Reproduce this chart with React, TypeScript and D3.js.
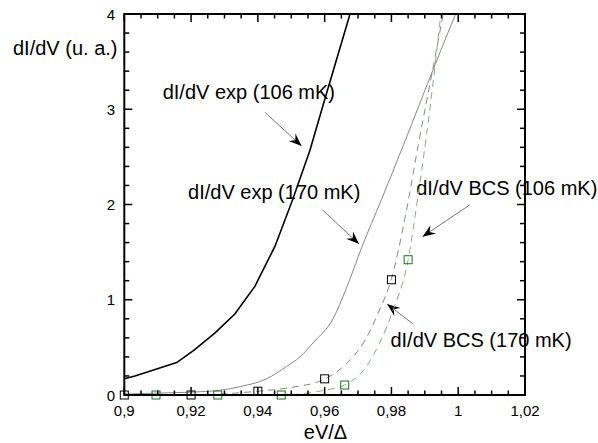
import React from "react";
import * as d3 from "d3";

// ---- data ----
const exp106X = [0.9, 0.9032, 0.9157, 0.9207, 0.9271, 0.9331, 0.9391, 0.9451, 0.9476, 0.9504, 0.9556, 0.96, 0.9676];
const exp106Y = [0.17, 0.2, 0.34, 0.465, 0.65, 0.85, 1.14, 1.56, 1.79, 2.05, 2.57, 3.1, 4.0];

const exp170X = [0.9, 0.91, 0.92, 0.9287, 0.935, 0.9426, 0.9486, 0.9526, 0.9566, 0.9625, 0.9665, 0.9711, 0.977, 0.984, 0.9915, 0.9992];
const exp170Y = [0.01, 0.02, 0.03, 0.05, 0.09, 0.17, 0.3, 0.4, 0.55, 0.8, 1.12, 1.55, 2.05, 2.66, 3.33, 4.0];

const bcs170X = [0.9, 0.92, 0.94, 0.95, 0.9595, 0.965, 0.9685, 0.9725, 0.976, 0.98, 0.9843, 0.988, 0.992, 0.9955];
const bcs170Y = [0, 0, 0.04, 0.08, 0.16, 0.28, 0.4, 0.6, 0.86, 1.22, 1.9, 2.62, 3.35, 4.0];

const bcs106X = [0.9, 0.9095, 0.928, 0.947, 0.955, 0.96, 0.966, 0.9725, 0.9765, 0.9805, 0.985, 0.988, 0.9915, 0.9948];
const bcs106Y = [0, 0, 0, 0, 0.02, 0.05, 0.105, 0.3, 0.55, 0.89, 1.42, 2.1, 3.0, 4.0];

const mark170X = [0.9, 0.92, 0.94, 0.96, 0.98];
const mark170Y = [0, 0, 0.04, 0.17, 1.21];
const mark106X = [0.9095, 0.928, 0.947, 0.966, 0.985];
const mark106Y = [0, 0, 0, 0.105, 1.42];

const xMajorTicks = [0.9, 0.92, 0.94, 0.96, 0.98, 1, 1.02];
const yMajorTicks = [0, 1, 2, 3, 4];

const labels = [
  { text: "dI/dV exp (106 mK)", x: 0.9115, y: 3.11, fx: 0.9421, fy: 2.968, tx: 0.9531, ty: 2.614 },
  { text: "dI/dV exp (170 mK)", x: 0.9191, y: 2.06, fx: 0.9594, fy: 1.942, tx: 0.9703, ty: 1.585 },
  { text: "dI/dV BCS (106 mK)", x: 0.9874, y: 2.1, fx: 1.0034, fy: 1.995, tx: 0.9893, ty: 1.662 },
  { text: "dI/dV BCS (170 mK)", x: 0.9797, y: 0.507, fx: 0.9865, fy: 0.745, tx: 0.9787, ty: 0.955 },
];

const W = 598, H = 443;
const L = 124.3, R = 525, T = 14, B = 395;

export default function App() {
  const x = d3.scaleLinear().domain([0.9, 1.02]).range([L, R]);
  const y = d3.scaleLinear().domain([0, 4]).range([B, T]);
  const line = d3.line<[number, number]>().x(d => x(d[0])).y(d => y(d[1]));
  const smooth = d3.line<[number, number]>().x(d => x(d[0])).y(d => y(d[1])).curve(d3.curveMonotoneX);
  const zip = (a: number[], b: number[]) => a.map((v, i) => [v, b[i]] as [number, number]);

  const xMinor = d3.range(0, 25).map(i => 0.9 + i * 0.005);
  const yMinor = d3.range(0, 21).map(i => i * 0.2);
  const fmt = (v: number) => String(+v.toFixed(2)).replace(".", ",");
  const font = "'Liberation Sans', Arial, sans-serif";

  const arrowHead = (x1: number, y1: number, x2: number, y2: number) => {
    const a = (Math.atan2(y2 - y1, x2 - x1) * 180) / Math.PI;
    return (
      <path d="M0,0 L-13,-5 L-8.5,0 L-13,5 Z" fill="#000" transform={`translate(${x2},${y2}) rotate(${a})`} />
    );
  };

  return (
    <svg width={W} height={H} style={{ position: "absolute", left: 0, top: 0, background: "#fff" }} fontFamily={font}>
      <defs>
        <clipPath id="plot">
          <rect x={L} y={T} width={R - L} height={B - T} />
        </clipPath>
      </defs>
      {labels.map((l, i) => (
        <text key={i} x={x(l.x)} y={y(l.y)} fontSize={20} fill="#000">{l.text}</text>
      ))}
      {labels.map((l, i) => {
        const x1 = x(l.fx), y1 = y(l.fy), x2 = x(l.tx), y2 = y(l.ty);
        return (
          <g key={"a" + i}>
            <line x1={x1} y1={y1} x2={x2} y2={y2} stroke="#555" strokeWidth={0.8} />
            {arrowHead(x1, y1, x2, y2)}
          </g>
        );
      })}
      <g clipPath="url(#plot)">
        <path d={smooth(zip(exp170X, exp170Y)) || ""} fill="none" stroke="#888" strokeWidth={1} />
        <path d={smooth(zip(bcs170X, bcs170Y)) || ""} fill="none" stroke="#888" strokeWidth={1} strokeDasharray="7,5" />
        <path d={smooth(zip(bcs106X, bcs106Y)) || ""} fill="none" stroke="#7fb47f" strokeWidth={1} strokeDasharray="7,5" />
        <path d={line(zip(exp106X, exp106Y)) || ""} fill="none" stroke="#000" strokeWidth={1.6} />
      </g>
      {mark170X.map((v, i) => (
        <rect key={"m1" + i} x={x(v) - 4} y={y(mark170Y[i]) - 4} width={8} height={8} fill="none" stroke="#000" strokeWidth={1} />
      ))}
      {mark106X.map((v, i) => (
        <rect key={"m2" + i} x={x(v) - 4} y={y(mark106Y[i]) - 4} width={8} height={8} fill="none" stroke="#1d6e1d" strokeWidth={1} />
      ))}
      <rect x={L} y={T} width={R - L} height={B - T} fill="none" stroke="#000" strokeWidth={2} />
      {xMinor.map((v, i) => {
        const len = i % 4 === 0 ? 8 : 4.5;
        return (
          <g key={"xt" + i}>
            <line x1={x(v)} x2={x(v)} y1={B} y2={B - len} stroke="#000" strokeWidth={1.5} />
            <line x1={x(v)} x2={x(v)} y1={T} y2={T + len} stroke="#000" strokeWidth={1.5} />
          </g>
        );
      })}
      {yMinor.map((v, i) => {
        const len = i % 5 === 0 ? 8 : 5;
        return (
          <g key={"yt" + i}>
            <line x1={L} x2={L + len} y1={y(v)} y2={y(v)} stroke="#000" strokeWidth={1.5} />
            <line x1={R} x2={R - len} y1={y(v)} y2={y(v)} stroke="#000" strokeWidth={1.5} />
          </g>
        );
      })}
      {xMajorTicks.map((v, i) => (
        <text key={"xl" + i} x={x(v)} y={416} fontSize={15} textAnchor="middle" fill="#000">{fmt(v)}</text>
      ))}
      {yMajorTicks.map((v, i) => (
        <text key={"yl" + i} x={115} y={y(v) + 5.5} fontSize={15} textAnchor="end" fill="#000">{fmt(v)}</text>
      ))}
      <text x={13} y={55} fontSize={20} fill="#000">dI/dV (u. a.)</text>
      <text x={325.5} y={439} fontSize={20} textAnchor="middle" fill="#000">eV/Δ</text>
    </svg>
  );
}
